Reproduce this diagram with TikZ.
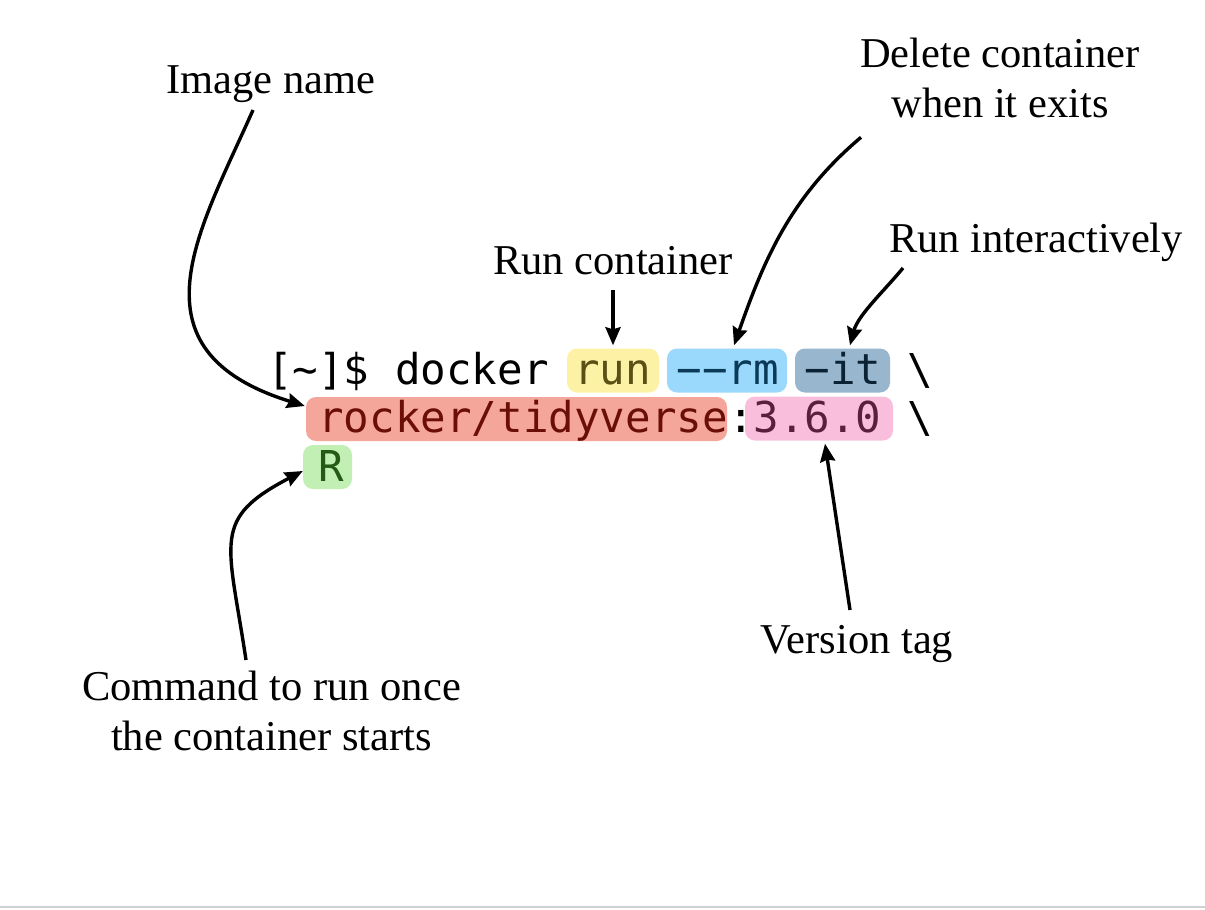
\documentclass[tikz,border=0pt]{standalone}
\usepackage{fontspec}
\setmainfont{Liberation Serif}
\newfontfamily\codefont[Ligatures=TeXOff]{DejaVu Sans Mono}
\usetikzlibrary{arrows.meta, calc}

\definecolor{runfill}{HTML}{FDF1A6}
\definecolor{runtext}{HTML}{5B4F16}
\definecolor{rmfill}{HTML}{9AD9FB}
\definecolor{rmtext}{HTML}{0A3A57}
\definecolor{itfill}{HTML}{98B6CD}
\definecolor{ittext}{HTML}{0B2235}
\definecolor{imgfill}{HTML}{F5A69B}
\definecolor{imgtext}{HTML}{6B0F06}
\definecolor{tagfill}{HTML}{F9BEDC}
\definecolor{tagtext}{HTML}{5A1F3E}
\definecolor{cmdfill}{HTML}{C2EFB3}
\definecolor{cmdtext}{HTML}{245A16}

\newcommand{\dash}{\symbol{"2212}}

\begin{document}
\begin{tikzpicture}[x=1pt, y=-1pt, >=Stealth,
    note/.style={font=\fontsize{42.5}{50}\selectfont, inner sep=0pt, align=center},
    code/.style={font=\codefont\fontsize{42.5}{50}\selectfont, inner sep=0pt, anchor=base west},
    hl/.style={rounded corners=10pt, minimum height=44pt, inner sep=0pt},
    pointer/.style={-{Stealth[length=18pt,width=15pt,inset=2pt]}, line width=3.4pt}]
	\def\cw{25.6} % width of one code character
	\def\cx{267}  % left edge of the first code column
	
	\useasboundingbox (0,0) rectangle (1205,910);
	\draw[line width=1.5pt, black!18] (0,907) -- (1205,907);
	
	% Highlights
	\node[hl, fill=runfill, minimum width=92pt] (runbox) at (613,370.5) {};
	\node[hl, fill=rmfill, minimum width=120pt] (rmbox) at (727,370.5) {};
	\node[hl, fill=itfill, minimum width=95pt] (itbox) at (842.5,370.5) {};
	\node[hl, fill=imgfill, minimum width=421pt] (imgbox) at (516.5,419) {};
	\node[hl, fill=tagfill, minimum width=148pt] (tagbox) at (819,418.5) {};
	\node[hl, fill=cmdfill, minimum width=49pt] (cmdbox) at (327.5,467) {};
	
	% Command line
	\node[code] (prompt) at (\cx,384) {[\textasciitilde]\$ docker};
	\node[code, text=runtext] (run) at ({\cx+12*\cw},384) {run};
	\node[code, text=rmtext] (rm) at ({\cx+16*\cw},384) {\dash\dash rm};
	\node[code, text=ittext] (it) at ({\cx+21*\cw},384) {\dash it};
	\node[code] (bs1) at ({\cx+25*\cw},384) {\textbackslash};
	\node[code, text=imgtext] (image) at ({\cx+2*\cw},432) {rocker/tidyverse};
	\node[code] (colon) at ({\cx+18*\cw},432) {:};
	\node[code, text=tagtext] (tag) at ({\cx+19*\cw},432) {3.6.0};
	\node[code] (bs2) at ({\cx+25*\cw},432) {\textbackslash};
	\node[code, text=cmdtext] (cmd) at ({\cx+2*\cw},481) {R};
	
	% Labels
	\node[note, anchor=base] (imgname) at (271,93) {Image name};
	\node[note, anchor=base] (runlbl) at (613,274) {Run container};
	\node[note, anchor=north] (dellbl) at (1000,38) {Delete container\\when it exits};
	\node[note, anchor=base] (itlbl) at (1036,252) {Run interactively};
	\node[note, anchor=base] (taglbl) at (857,653) {Version tag};
	\node[note, anchor=north] (cmdlbl) at (271.5,671) {Command to run once\\the container starts};
	
	% Arrows
	\draw[pointer] ($(imgname.base)+(-18,17)$) .. controls (200,230) and (125,350) .. ($(imgbox.west)+(-1,-13)$);
	\draw[pointer] ($(runlbl.base)+(0,16)$) -- ($(runbox.north)+(0,-3)$);
	\draw[pointer] ($(dellbl.south west)+(1,19)$) .. controls (789.6,197.5) and (763.7,261) .. ($(rmbox.north)+(7,-3)$);
	\draw[pointer] ($(itlbl.base)+(-133,16)$) .. controls (885,290) and (858,315) .. ($(itbox.north)+(7.5,-3)$);
	\draw[pointer] ($(taglbl.base)+(-7,-43)$) -- ($(tagbox.south)+(6,3)$);
	\draw[pointer] ($(cmdlbl.north)+(-25.5,-11)$) .. controls (228,540) and (211,519) .. ($(cmdbox.west)+(0,4)$);
	
\end{tikzpicture}
\end{document}
